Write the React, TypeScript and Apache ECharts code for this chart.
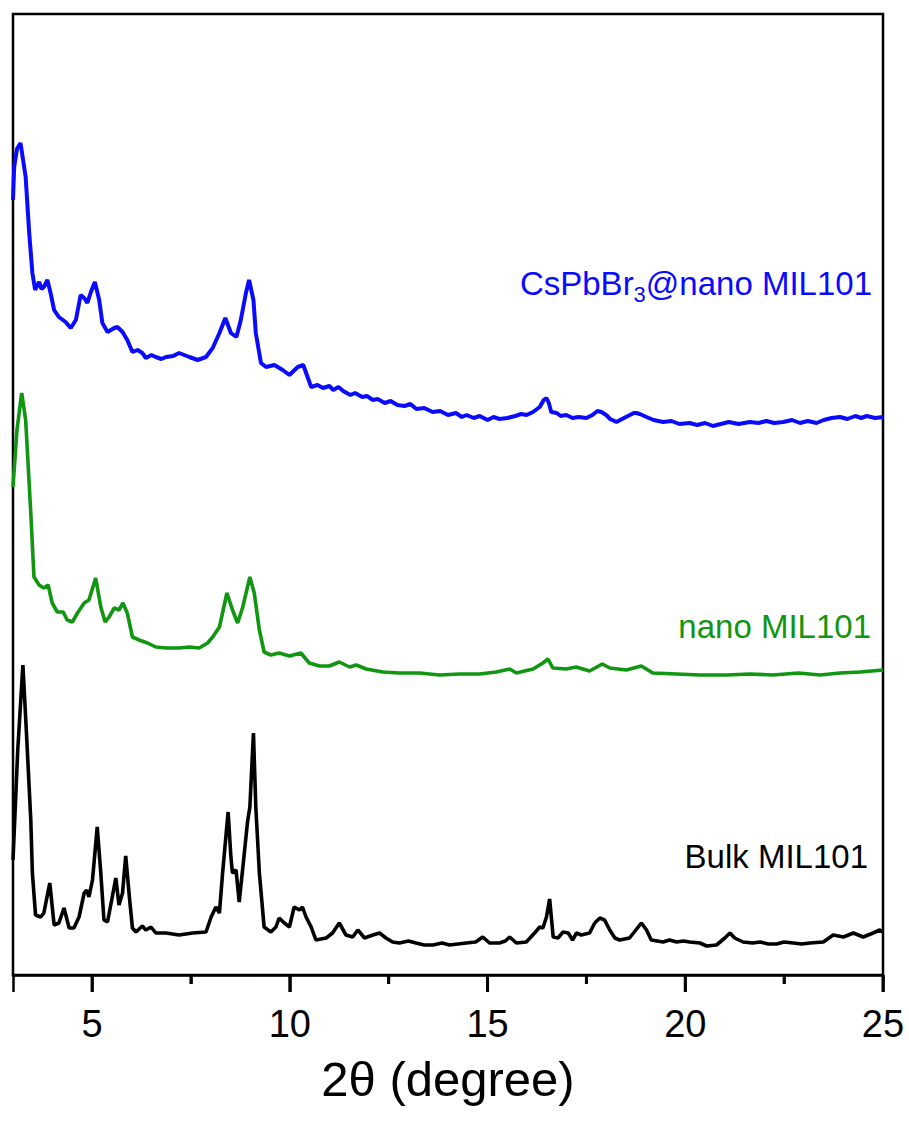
import React, { useEffect, useRef } from "react";
import * as echarts from "echarts";

// 2θ (degree) axis
const X_MIN = 3;
const X_MAX = 25;
const majorTicks = [5, 10, 15, 20, 25];
const minorTicks = [7.5, 12.5, 17.5, 22.5];
const Y_MAX = 961; // arbitrary intensity units (stacked, offset)

const seriesNames = ["CsPbBr3@nano MIL101", "nano MIL101", "Bulk MIL101"];

// Bulk MIL101 (black)
const bulkTheta = [
  3.0, 3.12, 3.25, 3.33, 3.45, 3.49, 3.57, 3.7, 3.78, 3.93, 4.04, 4.16, 4.29, 4.42, 4.54, 4.67, 4.8, 4.86, 4.92, 5.01,
  5.13, 5.22, 5.3, 5.39, 5.51, 5.6, 5.68, 5.77, 5.85, 5.95, 6.02, 6.11, 6.27, 6.36, 6.49, 6.61, 6.87, 7.2,
  7.54, 7.88, 8.01, 8.13, 8.22, 8.3, 8.44, 8.51, 8.55, 8.64, 8.72, 8.85, 8.93, 8.99, 9.08, 9.14, 9.23, 9.35,
  9.52, 9.65, 9.73, 9.86, 9.99, 10.11, 10.24, 10.32, 10.41, 10.54, 10.66, 10.92, 11.08, 11.25, 11.42, 11.59,
  11.72, 11.89, 12.1, 12.27, 12.43, 12.6, 12.77, 13.0, 13.19, 13.4, 13.62, 13.85, 14.04, 14.25, 14.46, 14.7,
  14.88, 15.05, 15.3, 15.45, 15.56, 15.73, 15.98, 16.19, 16.32, 16.4, 16.49, 16.57, 16.66, 16.78, 16.91,
  17.04, 17.15, 17.25, 17.37, 17.58, 17.71, 17.84, 17.96, 18.09, 18.22, 18.34, 18.59, 18.81, 18.89, 19.02,
  19.14, 19.44, 19.6, 19.78, 19.95, 20.11, 20.37, 20.54, 20.79, 21.0, 21.13, 21.25, 21.46, 21.7, 21.89,
  22.1, 22.31, 22.5, 22.73, 22.95, 23.15, 23.49, 23.74, 24.0, 24.25, 24.5, 24.75, 24.92, 25.0,
];
const bulkIntensity = [
  115, 225, 310, 250, 155, 102, 60, 58, 62, 92, 50, 52, 67, 47, 47, 58, 82, 85, 78, 95,
  148, 102, 55, 53, 78, 97, 70, 82, 119, 75, 47, 43, 49, 45, 48, 42, 42, 40,
  42, 43, 58, 68, 62, 102, 163, 118, 102, 105, 73, 122, 153, 168, 242, 168, 102, 48,
  43, 48, 57, 52, 48, 68, 65, 68, 58, 48, 35, 37, 42, 52, 40, 38,
  45, 37, 40, 42, 37, 33, 32, 34, 32, 30, 30, 32, 30, 31, 32, 33,
  38, 32, 32, 34, 38, 32, 33, 42, 48, 47, 58, 76, 38, 37, 43,
  42, 35, 42, 40, 42, 52, 57, 55, 45, 37, 35, 37, 48, 52, 45,
  35, 33, 35, 33, 34, 33, 32, 29, 30, 37, 42, 37, 33, 32, 33,
  31, 31, 33, 32, 31, 32, 33, 40, 38, 42, 38, 42, 45, 43,
];

// nano MIL101 (green)
const nanoTheta = [
  3.0, 3.1, 3.22, 3.32, 3.45, 3.53, 3.66, 3.78, 3.89, 3.99, 4.12, 4.27, 4.37, 4.5, 4.63, 4.8, 4.92, 5.09, 5.22,
  5.33, 5.43, 5.56, 5.68, 5.78, 5.89, 6.02, 6.19, 6.4, 6.61, 6.87, 7.2, 7.46, 7.71, 7.92, 8.05, 8.22, 8.41,
  8.55, 8.68, 8.81, 8.99, 9.1, 9.23, 9.35, 9.52, 9.73, 9.99, 10.28, 10.49, 10.75, 11.0, 11.25, 11.51, 11.68,
  11.93, 12.35, 12.77, 13.28, 13.78, 14.29, 14.8, 15.22, 15.56, 15.73, 16.15, 16.4, 16.53, 16.65, 16.99,
  17.24, 17.58, 17.9, 18.09, 18.51, 18.89, 19.18, 19.78, 20.37, 21.04, 21.63, 22.22, 22.86, 23.41, 23.91,
  24.42, 25.0,
];
const nanoIntensity = [
  488, 545, 582, 555, 462, 398, 390, 387, 390, 372, 363, 363, 355, 353, 362, 372, 375, 397, 368,
  353, 358, 367, 365, 372, 362, 338, 335, 332, 328, 327, 327, 328, 327, 332, 338, 348, 382,
  365, 352, 368, 398, 382, 345, 323, 320, 322, 319, 322, 312, 309, 309, 313, 308, 310,
  306, 303, 302, 302, 300, 301, 301, 303, 306, 302, 306, 312, 316, 307, 306,
  308, 304, 311, 307, 305, 309, 302, 301, 300, 300, 301, 300, 302, 300, 302,
  303, 305,
];

// CsPbBr3@nano MIL101 (blue)
const compTheta = [
  3.0, 3.03, 3.1, 3.19, 3.32, 3.41, 3.49, 3.56, 3.62, 3.66, 3.72, 3.78, 3.87, 3.95, 4.04, 4.16, 4.33, 4.46, 4.59, 4.71, 4.8,
  4.88, 4.97, 5.07, 5.18, 5.26, 5.39, 5.56, 5.64, 5.77, 5.89, 6.02, 6.15, 6.27, 6.36, 6.5, 6.61, 6.75, 6.87, 7.05, 7.2, 7.33,
  7.46, 7.67, 7.88, 8.05, 8.22, 8.37, 8.51, 8.65, 8.76, 8.89, 8.97, 9.08, 9.14, 9.27, 9.4, 9.61, 9.82, 9.99, 10.2, 10.34,
  10.54, 10.7, 10.84, 11.0, 11.1, 11.23, 11.35, 11.53, 11.65, 11.83, 11.95, 12.1, 12.22, 12.4, 12.55, 12.72, 12.9,
  13.05, 13.2, 13.4, 13.61, 13.8, 14.0, 14.2, 14.35, 14.47, 14.65, 14.8, 15.0, 15.15, 15.3, 15.5, 15.7, 15.85,
  15.99, 16.15, 16.32, 16.42, 16.49, 16.55, 16.61, 16.75, 16.85, 16.99, 17.15, 17.3, 17.5, 17.65, 17.78, 17.88,
  18.0, 18.1, 18.26, 18.4, 18.55, 18.7, 18.76, 18.85, 19.02, 19.2, 19.44, 19.65, 19.85, 20.11, 20.3, 20.5, 20.7,
  20.9, 21.1, 21.35, 21.63, 21.85, 22.05, 22.25, 22.48, 22.7, 22.9, 23.1, 23.32, 23.5, 23.7, 23.91, 24.1, 24.3,
  24.45, 24.59, 24.8, 25.0,
];
const compIntensity = [
  775, 808, 826, 832, 798, 742, 702, 685, 690, 693, 686, 688, 695, 682, 665, 658, 653, 647, 655, 680, 677,
  672, 683, 693, 675, 652, 643, 647, 648, 643, 635, 623, 625, 622, 617, 620, 618, 616, 618, 619, 622, 620,
  618, 615, 618, 627, 642, 657, 642, 638, 655, 682, 695, 675, 642, 612, 608, 610, 605, 600, 608, 610,
  588, 590, 587, 589, 585, 588, 584, 580, 582, 578, 579, 575, 576, 572, 574, 570, 569,
  571, 566, 567, 563, 564, 560, 562, 558, 560, 557, 559, 555, 558, 556, 557, 559, 561,
  560, 563, 568, 575, 577, 572, 563, 562, 559, 560, 557, 558, 557, 560, 564, 563,
  560, 556, 553, 556, 559, 562, 562, 561, 558, 555, 553, 554, 551, 552, 550, 552, 549,
  551, 553, 551, 553, 552, 554, 552, 553, 555, 552, 554, 552, 555, 557, 558, 556, 559,
  557, 559, 557, 558,
];

const colors = ["#0a0aff", "#119611", "#000000"];
const FONT = "'Liberation Sans', Arial, Helvetica, sans-serif";

const zip = (xs: number[], ys: number[]) => xs.map((x, i) => [x, ys[i]]);

const labelElements = [
  {
    type: "text",
    x: 872,
    y: 286,
    style: {
      text: "{m|CsPbBr}{s|3}{m|@nano MIL101}",
      align: "right",
      verticalAlign: "middle",
      rich: {
        m: { fontSize: 33, fill: colors[0], fontFamily: FONT, verticalAlign: "top", lineHeight: 39 },
        s: { fontSize: 22, fill: colors[0], fontFamily: FONT, verticalAlign: "bottom", lineHeight: 39 },
      },
    },
  },
  {
    type: "text",
    x: 871,
    y: 626,
    style: { text: "nano MIL101", fill: colors[1], fontSize: 33, fontFamily: FONT, align: "right", verticalAlign: "middle" },
  },
  {
    type: "text",
    x: 868,
    y: 856,
    style: { text: "Bulk MIL101", fill: colors[2], fontSize: 33, fontFamily: FONT, align: "right", verticalAlign: "middle" },
  },
];

// custom series that draws outward ticks at given axis values
const tickSeries = (values: number[], len: number) => ({
  type: "custom",
  silent: true,
  clip: false,
  z: 10,
  coordinateSystem: "cartesian2d",
  data: values.map((v) => [v, 0]),
  renderItem: (_params: any, api: any) => {
    const p = api.coord([api.value(0), api.value(1)]);
    return {
      type: "line",
      shape: { x1: p[0], y1: p[1], x2: p[0], y2: p[1] + len },
      style: { stroke: "#000", lineWidth: 3 },
    };
  },
});

export default function App() {
  const ref = useRef<HTMLDivElement>(null);

  useEffect(() => {
    document.body.style.margin = "0";
    if (!ref.current) return;
    const chart = echarts.init(ref.current, undefined, { renderer: "svg" });

    const traces = [zip(compTheta, compIntensity), zip(nanoTheta, nanoIntensity), zip(bulkTheta, bulkIntensity)];

    chart.setOption({
      animation: false,
      grid: { left: 13, right: 26, top: 14, bottom: 155, show: true, borderColor: "#000", borderWidth: 2.5 },
      xAxis: [
        {
          type: "value",
          min: X_MIN,
          max: X_MAX,
          position: "bottom",
          splitLine: { show: false },
          axisLine: { show: true, lineStyle: { color: "#000", width: 2.5 } },
          axisTick: { show: true, length: 17, lineStyle: { color: "#000", width: 2.5 } },
          minorTick: { show: true, splitNumber: 2, length: 9, lineStyle: { color: "#000", width: 2.5 } },
          axisLabel: { fontSize: 38, margin: 30, color: "#000", fontFamily: FONT, showMinLabel: false },
          name: "2θ (degree)",
          nameLocation: "middle",
          nameGap: 79,
          nameTextStyle: { fontSize: 49, color: "#000", fontFamily: FONT },
        },
      ],
      yAxis: { type: "value", min: 0, max: Y_MAX, show: false },
      series: [
        ...traces.map((d, i) => ({
          name: seriesNames[i],
          type: "line",
          data: d,
          showSymbol: false,
          lineStyle: { color: colors[i], width: i === 0 ? 4 : 3.6 },
          itemStyle: { color: colors[i] },
        })),
        tickSeries(majorTicks, 17),
        tickSeries(minorTicks, 9),
      ],
      graphic: labelElements,
    });

    return () => chart.dispose();
  }, []);

  return <div ref={ref} style={{ width: 909, height: 1130 }} />;
}
